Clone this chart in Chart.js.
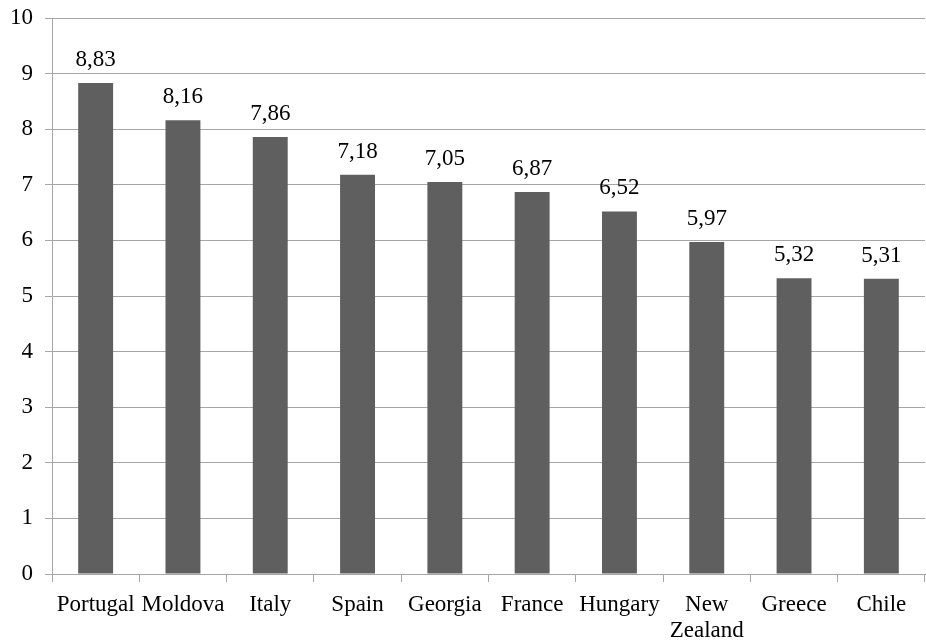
<!DOCTYPE html>
<html>
<head>
<meta charset="utf-8">
<script src="https://cdn.jsdelivr.net/npm/chart.js@4/dist/chart.umd.min.js"></script>
<style>
html,body{margin:0;padding:0;background:#fff;}
#wrap{width:926px;height:641px;}
</style>
</head>
<body>
<div id="wrap"><canvas id="c" width="926" height="641"></canvas></div>
<script>
const categories = ["Portugal", "Moldova", "Italy", "Spain", "Georgia", "France", "Hungary", ["New", "Zealand"], "Greece", "Chile"];
const values = [8.83, 8.16, 7.86, 7.18, 7.05, 6.87, 6.52, 5.97, 5.32, 5.31];
const yTicks = [0, 1, 2, 3, 4, 5, 6, 7, 8, 9, 10];

const fontFamily = "'Liberation Serif', 'Times New Roman', serif";
const fmt = v => v.toFixed(2).replace('.', ',');

const labelPlugin = {
  id: 'barLabels',
  afterDatasetsDraw(chart) {
    const ctx = chart.ctx;
    const meta = chart.getDatasetMeta(0);
    ctx.save();
    ctx.fillStyle = '#000';
    ctx.font = '23px ' + fontFamily;
    ctx.textAlign = 'center';
    ctx.textBaseline = 'alphabetic';
    meta.data.forEach((bar, i) => {
      ctx.fillText(fmt(values[i]), bar.x, bar.y - 17);
    });
    ctx.restore();
  }
};

new Chart(document.getElementById('c'), {
  type: 'bar',
  data: {
    labels: categories,
    datasets: [{
      data: values,
      backgroundColor: '#5f5f5f',
      borderWidth: 0,
      barPercentage: 0.4,
      categoryPercentage: 1.0
    }]
  },
  options: {
    responsive: false,
    animation: false,
    devicePixelRatio: 1,
    layout: { padding: { left: 0, right: 1, top: 18, bottom: 0 } },
    plugins: { legend: { display: false }, tooltip: { enabled: false } },
    scales: {
      x: {
        afterFit(scale) { scale.height = 67; scale.paddingLeft = 0; scale.paddingRight = 0; },
        grid: { display: true, drawOnChartArea: false, offset: true, color: '#a6a6a6', tickLength: 8, lineWidth: 1 },
        border: { display: true, color: '#a6a6a6' },
        ticks: { color: '#000', font: { family: fontFamily, size: 23, lineHeight: 1.13 }, padding: 10, maxRotation: 0, autoSkip: false }
      },
      y: {
        min: 0, max: 10,
        afterBuildTicks(scale) { scale.ticks = yTicks.map(v => ({ value: v })); },
        afterFit(scale) { scale.width = 52; scale.paddingTop = 0; scale.paddingBottom = 0; },
        grid: { color: '#a6a6a6', tickLength: 7, lineWidth: 1 },
        border: { display: true, color: '#a6a6a6' },
        ticks: { color: '#000', font: { family: fontFamily, size: 23 }, padding: 12 }
      }
    }
  },
  plugins: [labelPlugin]
});
</script>
</body>
</html>
